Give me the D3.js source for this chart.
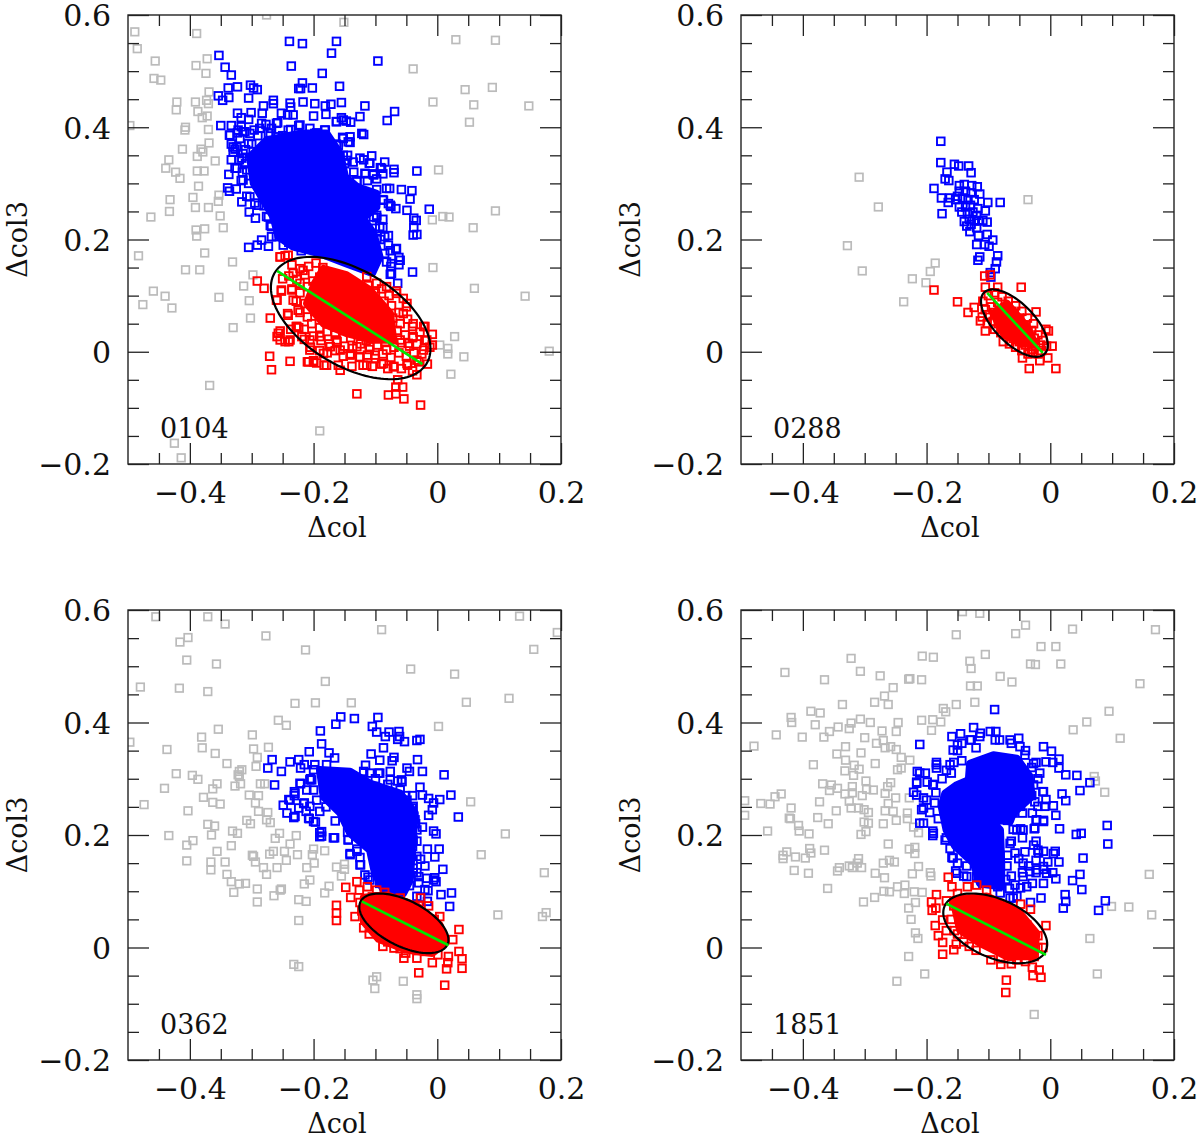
<!DOCTYPE html>
<html>
<head>
<meta charset="utf-8">
<script src="https://cdn.jsdelivr.net/npm/d3@7"></script>
<style>
body { margin: 0; background: #fff; }
text { font-family: "DejaVu Serif", serif; fill: #111; }
</style>
</head>
<body>
<svg id="chart" width="1200" height="1138"></svg>
<script>
// values, [dcol, dcol3]
var gray0104 = [[-.489,.57],[-.485,.54],[-.456,.518],[-.458,.487],[-.447,.484],[-.389,.567],[-.372,.522],[-.39,.51],[-.374,.496],[-.369,.463],[-.373,.448],[-.421,.445],[-.422,.431],[-.391,.445],[-.37,.442],[-.387,.428],[-.372,.42],[-.38,.417],[-.407,.4],[-.408,.395],[-.37,.396],[-.497,.403],[-.369,.372],[-.412,.361],[-.382,.361],[-.379,.356],[-.388,.348],[-.434,.342],[-.439,.327],[-.423,.32],[-.416,.309],[-.388,.322],[-.377,.322],[-.359,.34],[-.386,.295],[-.432,.271],[-.395,.275],[-.353,.279],[-.354,.268],[-.433,.25],[-.391,.257],[-.37,.257],[-.463,.24],[-.351,.242],[-.346,.221],[-.39,.217],[-.376,.219],[-.389,.206],[-.376,.176],[-.483,.171],[-.407,.146],[-.384,.146],[-.331,.16],[-.298,.137],[-.313,.117],[-.353,.097],[-.459,.108],[-.44,.099],[-.476,.084],[-.429,.078],[-.304,.091],[-.302,.06],[-.33,.043],[-.368,-.06],[-.425,-.163],[-.414,-.189],[-.19,-.141],[-.276,.6],[-.151,.587],[.03,.556],[.094,.555],[-.039,.504],[.045,.467],[.089,.471],[-.007,.445],[.059,.44],[.148,.438],[.052,.409],[.002,.324],[.094,.251],[-.008,.235],[.009,.241],[.019,.24],[.058,.221],[-.007,.15],[.06,.113],[.142,.099],[.028,.027],[.004,.012],[.017,.006],[.017,-.004],[.043,-.009],[.022,-.04],[.181,.001]];
var blue0104 = [[-.239,.553],[-.218,.549],[-.163,.553],[-.171,.532],[-.353,.528],[-.236,.509],[-.096,.518],[-.343,.507],[-.333,.493],[-.186,.496],[-.218,.479],[-.224,.469],[-.221,.469],[-.202,.47],[-.158,.473],[-.302,.475],[-.291,.467],[-.297,.47],[-.323,.472],[-.338,.47],[-.305,.452],[-.354,.456],[-.337,.453],[-.347,.448],[-.265,.448],[-.265,.442],[-.238,.443],[-.217,.445],[-.198,.442],[-.181,.438],[-.155,.444],[-.172,.441],[-.117,.438],[-.281,.438],[-.237,.436],[-.069,.428],[-.081,.412],[-.125,.419],[-.323,.425],[-.317,.417],[-.301,.426],[-.305,.414],[-.283,.425],[-.252,.425],[-.242,.422],[-.233,.422],[-.2,.42],[-.18,.423],[-.163,.41],[-.155,.417],[-.147,.411],[-.14,.409],[-.35,.403],[-.333,.403],[-.317,.401],[-.323,.39],[-.336,.386],[-.311,.392],[-.296,.395],[-.258,.408],[-.277,.405],[-.224,.403],[-.237,.396],[-.206,.398],[-.181,.395],[-.122,.389],[-.119,.387],[-.153,.382],[-.141,.373],[-.163,.37],[-.333,.37],[-.327,.361],[-.333,.342],[-.32,.342],[-.327,.327],[-.337,.316],[-.317,.305],[-.339,.292],[-.336,.286],[-.325,.29],[-.308,.277],[-.316,.267],[-.304,.249],[-.294,.238],[-.276,.241],[-.305,.186],[-.291,.19],[-.284,.199],[-.273,.188],[-.268,.205],[-.106,.349],[-.119,.342],[-.11,.336],[-.085,.338],[-.092,.328],[-.07,.325],[-.07,.319],[-.033,.322],[-.116,.317],[-.104,.317],[-.088,.317],[-.113,.305],[-.098,.308],[-.098,.289],[-.077,.291],[-.058,.289],[-.041,.287],[-.044,.272],[-.088,.271],[-.079,.264],[-.075,.259],[-.067,.255],[-.049,.252],[-.013,.254],[-.038,.238],[-.034,.234],[-.038,.221],[-.039,.208],[-.033,.209],[-.098,.239],[-.088,.236],[-.088,.221],[-.079,.207],[-.098,.202],[-.067,.183],[-.076,.18],[-.062,.168],[-.062,.155],[-.075,.152],[-.04,.142],[-.064,.122],[-.076,.138],[-.31,.36],[-.3,.37],[-.29,.385],[-.27,.39],[-.25,.385],[-.21,.385],[-.195,.39],[-.31,.335],[-.315,.32],[-.305,.3],[-.295,.265],[-.28,.26],[-.27,.225],[-.255,.21],[-.24,.195],[-.22,.18],[-.145,.35],[-.15,.335],[-.135,.32],[-.13,.305],[-.1,.22],[-.092,.2],[-.085,.175],[-.082,.16],[-.33,.365],[-.324,.365],[-.33,.356],[-.314,.353],[-.305,.371],[-.319,.38],[-.335,.386],[-.322,.395],[-.314,.392],[-.303,.389],[-.284,.407],[-.26,.407],[-.268,.398],[-.241,.395],[-.222,.404],[-.211,.383],[-.198,.389],[-.182,.395],[-.163,.41],[-.152,.413],[-.141,.383],[-.152,.38],[-.16,.368],[-.144,.374],[-.146,.341],[-.136,.338],[-.152,.35],[-.125,.345],[-.109,.336],[-.117,.318],[-.103,.315],[-.09,.327],[-.13,.303],[-.082,.291],[-.087,.27],[-.076,.261],[-.098,.243],[-.103,.24],[-.093,.223],[-.085,.205],[-.079,.19],[-.066,.184],[-.074,.157],[-.06,.163],[-.074,.139],[-.109,.154],[-.249,.19],[-.26,.205],[-.268,.223],[-.273,.24],[-.289,.261],[-.303,.276],[-.314,.306],[-.308,.324],[-.324,.327],[-.297,.347],[-.316,.345],[-.287,.398],[-.273,.389],[-.257,.383],[-.235,.377],[-.216,.371],[-.195,.371],[-.171,.368]];
var blueCore0104 = [[-.303,.347],[-.276,.377],[-.222,.389],[-.179,.389],[-.157,.353],[-.149,.312],[-.13,.294],[-.098,.282],[-.098,.258],[-.12,.238],[-.103,.211],[-.093,.169],[-.105,.14],[-.147,.157],[-.19,.175],[-.233,.187],[-.257,.205],[-.265,.24],[-.281,.27],[-.297,.3]];
var red0104 = [[-.254,.169],[-.246,.171],[-.291,.126],[-.28,.113],[-.259,.092],[-.252,.108],[-.25,.13],[-.27,.06],[-.242,.068],[-.271,-.008],[-.268,-.032],[-.238,-.017],[-.259,.027],[-.254,.037],[-.246,.018],[-.24,.018],[-.237,.04],[-.224,.043],[-.13,-.075],[-.079,-.077],[-.067,-.063],[-.056,-.063],[-.067,-.075],[-.054,-.084],[-.027,-.095],[-.008,.031],[-.008,.012],[-.016,-.022],[-.033,-.041],[-.064,-.05],[-.235,.155],[-.222,.148],[-.208,.152],[-.196,.158],[-.185,.15],[-.24,.135],[-.227,.129],[-.214,.137],[-.201,.126],[-.19,.133],[-.235,.112],[-.222,.105],[-.21,.116],[-.198,.108],[-.185,.112],[-.172,.118],[-.228,.09],[-.214,.086],[-.201,.094],[-.19,.082],[-.176,.09],[-.055,.095],[-.066,.108],[-.078,.1],[-.09,.112],[-.05,.08],[-.062,.07],[-.074,.082],[-.086,.09],[-.1,.105],[-.112,.118],[-.222,.07],[-.21,.062],[-.198,.072],[-.185,.066],[-.172,.058],[-.16,.048],[-.148,.055],[-.136,.042],[-.124,.05],[-.11,.035],[-.098,.045],[-.085,.052],[-.072,.06],[-.06,.05],[-.048,.058],[-.04,.045],[-.228,.045],[-.215,.04],[-.203,.05],[-.19,.043],[-.178,.036],[-.165,.03],[-.152,.038],[-.14,.025],[-.128,.032],[-.115,.02],[-.102,.028],[-.09,.036],[-.078,.03],[-.065,.038],[-.052,.03],[-.04,.025],[-.028,.035],[-.02,.045],[-.215,.022],[-.2,.028],[-.188,.02],[-.175,.014],[-.162,.018],[-.15,.01],[-.137,.006],[-.124,.014],[-.11,.004],[-.097,.012],[-.084,.018],[-.07,.008],[-.058,.016],[-.045,.01],[-.033,.014],[-.02,.02],[-.012,.008],[-.205,.008],[-.19,.002],[-.178,-.002],[-.165,.002],[-.152,-.008],[-.14,-.004],[-.126,-.01],[-.113,-.006],[-.1,-.012],[-.088,-.004],[-.075,-.01],[-.062,-.002],[-.05,-.008],[-.038,-.002],[-.025,-.004],[-.21,-.018],[-.2,-.016],[-.195,-.02],[-.183,-.024],[-.16,-.024],[-.138,-.026],[-.12,-.024],[-.105,-.026],[-.09,-.022],[-.08,-.03],[-.07,-.026],[-.058,-.03],[-.048,-.024],[-.04,-.034],[-.03,-.018],[-.16,.09],[-.15,.1],[-.14,.075],[-.13,.085],[-.175,.075],[-.12,.068],[-.105,.062],[-.155,.07],[-.254,.169],[-.241,.172],[-.233,.14],[-.217,.145],[-.222,.122],[-.235,.11],[-.252,.11],[-.26,.092],[-.233,.092],[-.241,.065],[-.225,.074],[-.257,.033],[-.254,.021],[-.238,.021],[-.227,.045],[-.219,.027],[-.206,.021],[-.19,.027],[-.173,.009],[-.157,.003],[-.141,-.006],[-.125,-.009],[-.114,-.024],[-.101,-.006],[-.087,-.021],[-.071,-.027],[-.049,-.021],[-.033,-.015],[-.022,.003],[-.017,.021],[-.022,.045],[-.039,.05],[-.055,.068],[-.049,.086],[-.066,.104],[-.082,.116],[-.098,.122],[-.114,.134],[-.208,-.018],[-.2,-.018],[-.179,-.024],[-.157,-.033],[-.109,.009],[-.082,.003],[-.06,.021],[-.047,.015],[-.039,.027],[-.206,.003],[-.184,-.003],[-.163,.021],[-.13,.009]];
var redCore0104 = [[-.184,.148],[-.147,.137],[-.109,.11],[-.076,.068],[-.071,.021],[-.103,.021],[-.147,.033],[-.184,.05],[-.211,.086],[-.198,.122]];

var gray0288 = [[-.309,.311],[-.278,.258],[-.328,.189],[-.304,.144],[-.186,.158],[-.194,.143],[-.223,.13],[-.201,.123],[-.237,.089],[-.036,.271]];
var blue0288 = [[-.177,.375],[-.177,.337],[-.155,.334],[-.148,.331],[-.132,.331],[-.128,.319],[-.167,.32],[-.17,.308],[-.164,.305],[-.188,.291],[-.176,.274],[-.175,.246],[-.165,.266],[-.162,.274],[-.153,.271],[-.147,.296],[-.139,.298],[-.127,.296],[-.118,.294],[-.147,.286],[-.137,.286],[-.128,.283],[-.114,.281],[-.15,.277],[-.142,.274],[-.133,.271],[-.123,.271],[-.101,.266],[-.081,.266],[-.147,.258],[-.137,.258],[-.129,.261],[-.117,.255],[-.105,.251],[-.143,.249],[-.134,.246],[-.125,.249],[-.119,.243],[-.139,.232],[-.131,.236],[-.123,.233],[-.116,.233],[-.109,.234],[-.102,.231],[-.135,.224],[-.128,.227],[-.119,.221],[-.13,.214],[-.116,.207],[-.102,.209],[-.093,.199],[-.119,.191],[-.106,.191],[-.099,.188],[-.114,.169],[-.117,.163],[-.085,.171],[-.087,.16],[-.089,.148],[-.097,.141],[-.096,.133]];
var red0288 = [[-.188,.11],[-.15,.089],[-.133,.07],[-.123,.079],[-.106,.135],[-.097,.137],[-.105,.115],[-.085,.115],[-.047,.115],[-.034,-.03],[.009,-.03],[-.017,-.016],[-.004,-.011],[-.045,-.011],[.003,.01],[-.003,.037],[-.007,.04],[-.023,.071],[-.105,.037],[-.113,.055],[-.109,.09],[-.1,.1],[-.09,.105],[-.078,.098],[-.068,.09],[-.056,.082],[-.046,.072],[-.037,.06],[-.027,.05],[-.105,.075],[-.095,.08],[-.085,.088],[-.074,.078],[-.062,.072],[-.05,.06],[-.04,.048],[-.03,.038],[-.02,.03],[-.012,.02],[-.11,.062],[-.1,.066],[-.09,.07],[-.08,.064],[-.07,.06],[-.058,.056],[-.048,.046],[-.036,.036],[-.026,.024],[-.016,.012],[-.006,.01],[-.102,.05],[-.092,.054],[-.084,.05],[-.074,.046],[-.064,.044],[-.054,.036],[-.044,.03],[-.034,.02],[-.024,.01],[-.014,.002],[-.09,.04],[-.08,.034],[-.07,.03],[-.06,.024],[-.05,.018],[-.04,.012],[-.03,.004],[-.02,-.004],[-.076,.018],[-.066,.014],[-.056,.008],[-.046,.002],[-.036,-.004],[-.028,0]];
var redCore0288 = [[-.092,.068],[-.07,.086],[-.038,.045],[-.025,.015],[-.046,.015],[-.076,.033]];

var gray0362 = [[-.455,.588],[-.371,.588],[-.343,.575],[-.277,.554],[-.403,.551],[-.416,.543],[-.405,.511],[-.357,.504],[-.213,.529],[-.09,.565],[.133,.589],[.194,.56],[.156,.53],[-.043,.495],[.028,.486],[-.181,.473],[-.48,.463],[-.417,.461],[-.371,.455],[.116,.443],[.047,.436],[-.23,.434],[-.197,.435],[-.139,.435],[-.257,.404],[-.244,.395],[.002,.393],[-.354,.388],[-.381,.374],[-.299,.378],[-.497,.365],[-.437,.352],[-.38,.355],[-.297,.353],[-.273,.356],[-.359,.345],[-.291,.338],[-.34,.327],[-.293,.322],[-.422,.309],[-.396,.306],[-.387,.299],[-.316,.316],[-.32,.313],[-.322,.307],[-.32,.304],[-.318,.291],[-.327,.287],[-.356,.291],[-.363,.282],[-.441,.283],[-.286,.291],[-.279,.291],[-.304,.271],[-.289,.27],[-.378,.267],[-.363,.258],[-.351,.255],[-.474,.254],[-.294,.257],[-.403,.243],[-.289,.242],[-.274,.24],[.054,.259],[-.371,.219],[-.36,.216],[-.308,.226],[-.302,.22],[-.276,.227],[-.27,.222],[-.331,.207],[-.323,.203],[-.365,.2],[-.434,.199],[-.255,.203],[-.262,.194],[-.228,.199],[-.238,.184],[.11,.202],[-.395,.19],[-.405,.182],[-.333,.181],[-.356,.171],[-.247,.171],[-.265,.171],[-.271,.166],[-.299,.164],[-.297,.162],[-.2,.175],[-.182,.172],[-.202,.165],[-.226,.165],[.071,.165],[-.405,.154],[-.366,.152],[-.366,.138],[-.343,.152],[-.294,.152],[-.244,.155],[-.199,.15],[-.281,.142],[-.259,.142],[-.211,.142],[-.163,.143],[-.15,.148],[-.15,.139],[-.34,.13],[-.276,.13],[-.155,.127],[.173,.133],[-.333,.117],[-.32,.113],[-.31,.114],[-.206,.12],[-.215,.113],[-.175,.109],[-.291,.104],[-.252,.104],[-.254,.102],[-.329,.098],[-.264,.092],[-.182,.097],[-.224,.085],[-.212,.082],[-.291,.081],[-.224,.048],[.098,.058],[.17,.055],[.176,.062],[-.232,-.03],[-.224,-.034],[-.104,-.058],[-.098,-.052],[-.101,-.073],[-.055,-.06],[-.033,-.084],[-.033,-.091]];
var blue0362 = [[-.156,.41],[-.164,.397],[-.134,.407],[-.096,.409],[-.105,.393],[-.098,.383],[-.189,.385],[-.078,.383],[-.084,.375],[-.062,.384],[-.061,.375],[-.064,.37],[-.053,.366],[-.028,.37],[-.033,.368],[-.187,.362],[-.087,.355],[-.207,.348],[-.175,.346],[-.107,.344],[-.166,.337],[-.07,.338],[-.073,.332],[-.093,.333],[-.032,.334],[-.267,.334],[-.274,.319],[-.252,.313],[-.238,.33],[-.224,.334],[-.215,.325],[-.221,.319],[-.198,.325],[-.116,.324],[-.049,.319],[-.045,.313],[-.024,.313],[.011,.307],[-.095,.31],[-.076,.313],[-.263,.289],[-.221,.291],[-.203,.298],[-.058,.298],[-.064,.296],[-.028,.285],[-.024,.271],[.022,.271],[-.231,.277],[-.231,.27],[-.24,.263],[-.249,.253],[-.243,.239],[-.232,.231],[-.224,.248],[-.215,.257],[-.212,.242],[-.207,.229],[-.197,.223],[-.19,.204],[-.187,.198],[-.166,.195],[-.014,.265],[-.006,.257],[.004,.263],[-.008,.245],[.034,.232],[-.014,.235],[-.024,.214],[-.006,.207],[-.002,.202],[-.016,.175],[.003,.175],[-.004,.161],[.009,.139],[-.027,.157],[-.02,.145],[-.033,.133],[-.004,.124],[-.002,.117],[-.015,.101],[.006,.094],[.023,.097],[.02,.073],[-.016,.082],[-.027,.089],[-.144,.192],[-.141,.167],[-.124,.147],[-.112,.125],[-.042,.201],[-.033,.189],[-.042,.164],[-.039,.133],[-.045,.232],[-.039,.251],[-.051,.27],[-.061,.263],[-.205,.3],[-.2,.28],[-.195,.262],[-.18,.25],[-.165,.225],[-.145,.205],[-.13,.175],[-.125,.16],[-.1,.3],[-.08,.29],[-.06,.28],[-.04,.27],[-.035,.22],[-.04,.18],[-.03,.115],[-.045,.11],[-.222,.292],[-.211,.28],[-.206,.298],[-.23,.274],[-.238,.262],[-.216,.256],[-.206,.251],[-.23,.233],[-.208,.23],[-.19,.242],[-.2,.224],[-.187,.206],[-.19,.197],[-.168,.195],[-.144,.191],[-.141,.165],[-.13,.171],[-.125,.147],[-.117,.129],[-.109,.12],[-.093,.114],[-.049,.262],[-.041,.248],[-.036,.227],[-.033,.209],[-.039,.191],[-.033,.162],[-.039,.141],[-.03,.126],[-.017,.123],[-.006,.12],[-.02,.103],[-.033,.091],[-.093,.144],[-.119,.313],[-.109,.31],[-.093,.31],[-.076,.298],[-.057,.295],[-.2,.316],[-.179,.325]];
var blueCore0362 = [[-.19,.316],[-.141,.313],[-.109,.292],[-.06,.274],[-.036,.239],[-.041,.173],[-.044,.12],[-.055,.096],[-.087,.102],[-.101,.132],[-.109,.173],[-.141,.203],[-.157,.239],[-.184,.268]];
var red0362 = [[-.148,.107],[-.13,.117],[-.14,.089],[-.126,.102],[-.113,.108],[-.098,.102],[-.163,.075],[-.163,.061],[-.163,.048],[-.133,.055],[-.119,.035],[-.11,.024],[-.088,.002],[-.054,-.019],[-.033,-.019],[-.03,-.045],[-.008,-.027],[.001,-.013],[.018,-.016],[.017,-.027],[.015,-.038],[.012,-.067],[.035,-.007],[.04,-.02],[.04,-.037],[.035,.032],[.025,.014],[.004,.055],[-.014,.074],[-.027,.088],[-.051,-.01],[-.07,-.001],[-.02,-.007],[-.125,.08],[-.122,.065],[-.105,.09],[-.085,.098],[-.115,.06],[-.1,.03],[-.08,.01],[-.06,-.002],[-.03,-.005],[-.01,.005],[.005,.025],[-.005,.05],[-.03,.075],[-.06,.088],[-.09,.09],[-.11,.08]];
var redCore0362 = [[-.119,.089],[-.082,.093],[-.033,.074],[.004,.04],[.014,.009],[-.008,-.01],[-.051,-.004],[-.095,.015],[-.119,.046]];

var gray1851 = [[-.142,.597],[-.114,.594],[-.04,.573],[-.056,.558],[.036,.566],[.17,.565],[-.152,.556],[-.015,.535],[.009,.535],[-.105,.521],[-.207,.518],[-.189,.516],[-.322,.514],[-.13,.509],[-.128,.496],[-.032,.504],[-.024,.503],[.017,.504],[-.429,.489],[-.307,.491],[-.275,.483],[-.365,.476],[-.227,.478],[-.229,.477],[-.208,.476],[-.081,.482],[-.062,.472],[.145,.469],[-.129,.465],[-.118,.465],[-.254,.462],[-.268,.447],[-.284,.436],[-.262,.432],[-.336,.432],[-.152,.432],[-.122,.436],[-.173,.425],[-.169,.419],[.095,.42],[-.387,.42],[-.372,.417],[-.419,.409],[-.418,.4],[-.307,.406],[-.38,.396],[-.343,.392],[-.322,.399],[-.325,.389],[-.291,.4],[-.246,.4],[-.208,.404],[-.19,.405],[-.177,.401],[-.357,.384],[-.272,.385],[-.249,.384],[-.192,.386],[.037,.387],[.059,.401],[-.443,.378],[-.401,.374],[-.366,.374],[-.3,.373],[.113,.372],[-.281,.363],[-.27,.368],[-.479,.358],[-.331,.357],[-.267,.355],[-.258,.357],[-.249,.352],[-.345,.344],[-.306,.346],[-.331,.333],[-.241,.338],[-.227,.333],[-.383,.325],[-.283,.327],[-.317,.324],[-.309,.317],[-.332,.314],[-.318,.306],[-.247,.316],[-.241,.319],[-.368,.291],[-.354,.289],[-.357,.279],[-.344,.283],[-.32,.286],[-.32,.275],[-.332,.273],[-.298,.296],[-.304,.27],[-.297,.281],[-.286,.28],[-.258,.293],[-.263,.286],[-.267,.274],[.071,.304],[.073,.296],[.088,.276],[-.435,.273],[-.445,.268],[-.453,.255],[-.468,.256],[-.494,.261],[-.494,.235],[-.373,.259],[-.325,.26],[-.25,.266],[-.228,.266],[-.262,.256],[-.346,.243],[-.322,.248],[-.31,.248],[-.301,.245],[-.294,.24],[-.267,.243],[-.254,.242],[-.419,.248],[-.422,.23],[-.42,.229],[-.376,.231],[-.359,.22],[-.407,.217],[-.406,.207],[-.39,.202],[-.457,.207],[-.301,.223],[-.294,.221],[-.27,.22],[-.249,.226],[-.231,.239],[-.231,.229],[-.221,.214],[-.213,.204],[-.306,.201],[-.298,.206],[-.262,.184],[-.389,.176],[-.387,.168],[-.365,.173],[-.426,.17],[-.432,.164],[-.432,.158],[-.412,.161],[-.396,.159],[-.414,.137],[-.391,.132],[-.228,.175],[-.219,.178],[-.219,.167],[-.31,.158],[-.312,.15],[-.305,.142],[-.341,.142],[-.344,.136],[-.325,.145],[-.32,.142],[-.27,.15],[-.26,.155],[-.252,.152],[-.213,.144],[-.283,.132],[-.268,.124],[-.223,.131],[-.194,.133],[-.193,.127],[-.36,.105],[-.247,.108],[-.235,.111],[-.269,.1],[-.26,.099],[-.236,.096],[-.22,.099],[-.207,.098],[-.284,.089],[-.302,.081],[-.229,.07],[-.218,.08],[-.225,.05],[-.218,.026],[-.214,.016],[-.229,-.016],[-.203,-.047],[-.248,-.06],[-.026,-.119],[.064,.016],[.076,-.047],[.099,.073],[.127,.072],[.164,.058],[.16,.13]];
var blue1851 = [[-.09,.423],[-.211,.361],[-.124,.391],[-.159,.375],[-.145,.38],[-.113,.381],[-.097,.384],[-.088,.384],[-.051,.372],[-.063,.363],[-.082,.369],[-.128,.369],[-.15,.35],[-.011,.357],[.002,.349],[-.007,.33],[.014,.335],[.004,.329],[-.023,.329],[.025,.307],[.043,.306],[.014,.319],[.064,.293],[.048,.279],[.019,.273],[.025,.261],[-.012,.277],[-.007,.263],[.005,.252],[.009,.235],[.015,.211],[.042,.201],[.05,.203],[.092,.217],[.093,.184],[.008,.171],[.005,.167],[.014,.152],[.053,.159],[.048,.13],[.036,.119],[.051,.103],[.009,.122],[.004,.133],[.024,.094],[.025,.082],[.021,.07],[.089,.083],[.078,.066],[-.015,.088],[-.032,.08],[-.06,.088],[-.048,.106],[-.029,.114],[-.011,.114],[-.023,.133],[-.011,.139],[-.045,.133],[-.035,.145],[-.023,.155],[-.004,.152],[-.02,.173],[-.023,.189],[-.041,.17],[-.051,.158],[-.069,.164],[-.063,.127],[-.045,.195],[-.063,.189],[-.048,.211],[-.023,.226],[-.011,.226],[-.026,.211],[-.045,.239],[-.029,.239],[-.02,.251],[-.048,.251],[-.069,.226],[-.06,.239],[-.215,.313],[-.216,.294],[-.221,.276],[-.202,.31],[-.199,.294],[-.184,.329],[-.184,.319],[-.168,.315],[-.156,.329],[-.143,.332],[-.205,.266],[-.208,.245],[-.205,.221],[-.19,.207],[-.19,.199],[-.168,.195],[-.162,.176],[-.159,.16],[-.153,.136],[-.14,.127],[-.187,.257],[-.181,.229],[-.116,.133],[-.116,.124],[-.097,.139],[-.109,.114],[-.085,.108],[-.066,.105],[-.072,.121],[-.19,.29],[-.175,.3],[-.16,.31],[-.195,.24],[-.185,.275],[-.15,.36],[-.12,.355],[-.04,.35],[-.03,.32],[-.02,.3],[-.03,.27],[-.15,.15],[-.135,.145],[-.06,.21],[-.07,.145],[-.157,.351],[-.143,.363],[-.13,.369],[-.114,.375],[-.089,.369],[-.065,.369],[-.049,.357],[-.041,.342],[-.027,.327],[-.017,.31],[-.027,.289],[-.011,.277],[-.025,.259],[-.009,.251],[-.022,.227],[-.011,.224],[-.025,.212],[-.044,.209],[-.054,.209],[-.065,.185],[-.057,.168],[-.044,.15],[-.033,.135],[-.022,.138],[-.011,.144],[-.006,.132],[-.044,.126],[-.057,.111],[-.038,.108],[-.081,.097],[-.065,.088],[-.054,.091],[-.119,.126],[-.135,.126],[-.151,.132],[-.157,.159],[-.17,.191],[-.189,.203],[-.211,.221],[-.205,.248],[-.216,.271],[-.2,.262],[-.189,.289],[-.184,.325],[-.162,.325],[-.211,.31],[-.216,.292],[-.027,.182],[-.019,.168],[-.011,.171]];
var blueCore1851 = [[-.13,.327],[-.092,.342],[-.054,.336],[-.033,.304],[-.03,.268],[-.06,.239],[-.065,.224],[-.097,.227],[-.081,.209],[-.079,.15],[-.079,.108],[-.114,.114],[-.124,.15],[-.154,.18],[-.168,.209],[-.176,.251],[-.17,.274],[-.151,.289],[-.132,.298]];
var red1851 = [[-.165,.125],[-.184,.094],[-.192,.081],[-.191,.066],[-.185,.07],[-.174,.049],[-.186,.039],[-.181,.021],[-.174,.009],[-.174,-.012],[-.156,-.004],[-.152,.006],[-.159,.108],[-.15,.096],[-.134,.108],[-.119,.111],[-.103,.102],[-.168,.083],[-.156,.074],[-.168,.03],[-.15,.024],[-.131,.002],[-.096,-.022],[-.08,-.03],[-.063,-.029],[-.029,-.035],[-.028,-.05],[-.015,-.053],[-.018,-.04],[-.071,-.058],[-.072,-.08],[-.007,.039],[-.012,0],[-.032,.068],[-.048,.077],[-.02,.021],[-.038,.04],[-.026,-.016],[-.054,-.022],[-.16,.05],[-.145,.04],[-.155,.03],[-.14,.01],[-.12,-.005],[-.08,-.02],[-.04,-.025],[-.02,0]];
var redCore1851 = [[-.157,.085],[-.103,.091],[-.054,.067],[-.022,.025],[-.027,-.016],[-.07,-.016],[-.114,.008],[-.146,.031]];

var xMajor = [-.4, -.2, 0, .2];
var xMinor = [-.45, -.35, -.3, -.25, -.15, -.1, -.05, .05, .1, .15];
var yMajor = [-.2, 0, .2, .4, .6];
var yMinor = [-.15, -.1, -.05, .05, .1, .15, .25, .3, .35, .45, .5, .55];

// name, left, top, gray, blue, blueCore, red, redCore, fit line, ellipse [cx, A, cy, B, rho]
var panels = [
    { name: '0104', left: 128, top: 15, bottom: 464, gray: gray0104, blue: blue0104, blueCore: blueCore0104, red: red0104, redCore: redCore0104, fit: [[-.259, .144], [-.024, -.022]], ell: [-.14, .129, .06, .109, -.5] },
    { name: '0288', left: 741, top: 15, bottom: 464, gray: gray0288, blue: blue0288, blueCore: null, red: red0288, redCore: redCore0288, fit: [[-.102, .105], [-.012, -.002]], ell: [-.058, .054, .051, .06, -.65] },
    { name: '0362', left: 128, top: 610, bottom: 1060, gray: gray0362, blue: blue0362, blueCore: blueCore0362, red: red0362, redCore: redCore0362, fit: [[-.122, .082], [.018, .004]], ell: [-.054, .072, .043, .053, -.55] },
    { name: '1851', left: 741, top: 610, bottom: 1060, gray: gray1851, blue: blue1851, blueCore: blueCore1851, red: red1851, redCore: redCore1851, fit: [[-.168, .078], [-.007, -.013]], ell: [-.089, .084, .034, .062, -.45] }
];

var w = 433; // width of each box
var size = 7.6; // marker side
var svg = d3.select('#chart');

function fmt(d) {
    if (d === 0) return '0';
    return (d < 0 ? '\u2212' : '') + Math.abs(d).toFixed(1);
}

function drawPanel(p, i) {
    var x = d3.scaleLinear().domain([-.5, .2]).range([0, w]);
    var y = d3.scaleLinear().domain([-.2, .6]).range([p.bottom - p.top, 0]);
    var h = p.bottom - p.top;
    var g = svg.append('g').attr('transform', 'translate(' + p.left + ',' + p.top + ')');

    g.append('clipPath').attr('id', 'clip' + i).append('rect').attr('width', w).attr('height', h);
    var plot = g.append('g').attr('clip-path', 'url(#clip' + i + ')');

    function squares(data, color, sw) {
        plot.append('g').selectAll('rect').data(data).enter().append('rect')
            .attr('x', function (d) { return x(d[0]) - size / 2; })
            .attr('y', function (d) { return y(d[1]) - size / 2; })
            .attr('width', size)
            .attr('height', size)
            .attr('fill', 'none')
            .attr('stroke', color)
            .attr('stroke-width', sw);
    }
    // saturated part of a cloud: the outline runs through square centres, so stroke it out by half a square
    function core(data, color) {
        if (!data) return;
        plot.append('path').datum(data)
            .attr('d', d3.line().x(function (d) { return x(d[0]); }).y(function (d) { return y(d[1]); }).curve(d3.curveLinearClosed))
            .attr('fill', color)
            .attr('stroke', color)
            .attr('stroke-width', size)
            .attr('stroke-linejoin', 'round');
    }

    squares(p.gray, '#bbbbbb', 1.7);
    core(p.blueCore, '#0000ff');
    squares(p.blue, '#0000ff', 1.9);
    core(p.redCore, '#ff0000');
    squares(p.red, '#ff0000', 1.9);

    // ellipse from x and y half extents and their correlation
    var e = p.ell;
    var ts = d3.range(0, Math.PI * 2, 0.05);
    plot.append('path').datum(ts)
        .attr('d', d3.line()
            .x(function (t) { return x(e[0] + e[1] * Math.cos(t)); })
            .y(function (t) { return y(e[2] + e[3] * (e[4] * Math.cos(t) + Math.sqrt(1 - e[4] * e[4]) * Math.sin(t))); })
            .curve(d3.curveLinearClosed))
        .attr('fill', 'none')
        .attr('stroke', '#000')
        .attr('stroke-width', 2.2);

    plot.append('line')
        .attr('x1', x(p.fit[0][0])).attr('y1', y(p.fit[0][1]))
        .attr('x2', x(p.fit[1][0])).attr('y2', y(p.fit[1][1]))
        .attr('stroke', '#00e600')
        .attr('stroke-width', 2.6);

    // ticks point inward on all four sides
    function axis(gen, ty, tx) {
        var a = g.append('g').attr('transform', 'translate(' + (tx || 0) + ',' + (ty || 0) + ')').call(gen);
        a.selectAll('.domain').remove();
        a.selectAll('line').attr('stroke', '#222').attr('stroke-width', 1.3);
        return a;
    }
    axis(d3.axisBottom(x).tickValues(xMajor).tickSize(-21).tickFormat(fmt).tickPadding(39), h)
        .selectAll('text').attr('font-size', 30).attr('dy', 0).attr('fill', '#111');
    axis(d3.axisBottom(x).tickValues(xMinor).tickSize(-11).tickFormat(''), h);
    axis(d3.axisTop(x).tickValues(xMajor).tickSize(-21).tickFormat(''));
    axis(d3.axisTop(x).tickValues(xMinor).tickSize(-11).tickFormat(''));
    axis(d3.axisLeft(y).tickValues(yMajor).tickSize(-21).tickFormat(fmt).tickPadding(17))
        .selectAll('text').attr('font-size', 30).attr('dy', '.36em').attr('fill', '#111');
    axis(d3.axisLeft(y).tickValues(yMinor).tickSize(-11).tickFormat(''));
    axis(d3.axisRight(y).tickValues(yMajor).tickSize(-21).tickFormat(''), 0, w);
    axis(d3.axisRight(y).tickValues(yMinor).tickSize(-11).tickFormat(''), 0, w);

    g.append('rect').attr('width', w).attr('height', h)
        .attr('fill', 'none').attr('stroke', '#222').attr('stroke-width', 1.4);

    g.append('text').attr('x', 32).attr('y', h - 26).attr('font-size', 27).text(p.name);
    g.append('text').attr('x', 209).attr('y', h + 73).attr('text-anchor', 'middle').attr('font-size', 27).text('\u0394col');
    g.append('text')
        .attr('transform', 'translate(-101,' + (h / 2) + ') rotate(-90)')
        .attr('text-anchor', 'middle').attr('font-size', 27).text('\u0394col3');
}

panels.forEach(drawPanel);
</script>
</body>
</html>
